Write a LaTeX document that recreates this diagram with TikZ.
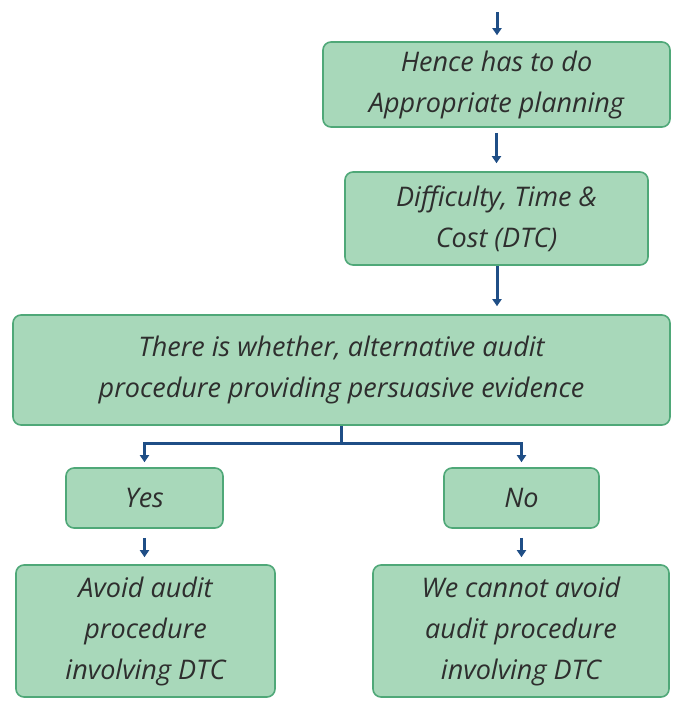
\documentclass[tikz,border=0pt]{standalone}
\usepackage{fontspec}
\setmainfont{Open Sans}
\usetikzlibrary{arrows.meta,calc}
\definecolor{boxfill}{HTML}{A8D8BA}
\definecolor{boxline}{HTML}{4FA878}
\definecolor{flow}{HTML}{1F4E86}
\definecolor{ink}{HTML}{2E2E2E}
\begin{document}
\begin{tikzpicture}[x=1pt,y=1pt,
  stepbox/.style={draw=boxline, fill=boxfill, line width=1.6pt, rounded corners=8pt,
    align=center, inner sep=0pt, text=ink,
    font=\fontsize{27}{41}\selectfont\itshape},
  flowline/.style={draw=flow, line width=3pt},
  flowarrow/.style={flowline, -{Triangle[width=9pt,length=7pt]}}]
\useasboundingbox (0,0) rectangle (673,-705);
\node[stepbox, minimum width=347pt, minimum height=85pt] (plan) at (496.5,-84.5)
  {Hence has to do\\Appropriate planning};
\node[stepbox, minimum width=303pt, minimum height=93pt] (dtc) at (496.5,-218.5)
  {Difficulty, Time \&\\Cost (DTC)};
\node[stepbox, minimum width=657pt, minimum height=110pt] (alt) at (341.5,-370)
  {There is whether, alternative audit\\procedure providing persuasive evidence};
\node[stepbox, minimum width=157pt, minimum height=60pt] (yes) at (144.5,-498) {Yes};
\node[stepbox, minimum width=155pt, minimum height=60pt] (no) at (521.5,-498) {No};
\node[stepbox, minimum width=259pt, minimum height=132pt] (avoid) at (145.5,-631)
  {Avoid audit\\procedure\\involving DTC};
\node[stepbox, minimum width=296pt, minimum height=132pt] (cannot) at (521,-631)
  {We cannot avoid\\audit procedure\\involving DTC};
\coordinate (entry) at (497,-12);
\coordinate (fork) at ($(alt.south)+(0,-18)$);
\draw[flowarrow, shorten >=6pt] (entry) -- (plan.north -| entry);
\draw[flowarrow, shorten <=5pt, shorten >=8pt] (plan.south) -- (dtc.north);
\draw[flowarrow, shorten >=8pt] (dtc.south -| entry) -- (alt.north -| entry);
\draw[flowline] (alt.south) -- (fork);
\draw[flowarrow, shorten >=5pt] (fork) -| (yes.north);
\draw[flowarrow, shorten >=5pt] (fork) -| (no.north);
\draw[flowarrow, shorten <=9pt, shorten >=7pt] (yes.south) -- (yes.south |- avoid.north);
\draw[flowarrow, shorten <=9pt, shorten >=7pt] (no.south) -- (no.south |- cannot.north);
\end{tikzpicture}
\end{document}
